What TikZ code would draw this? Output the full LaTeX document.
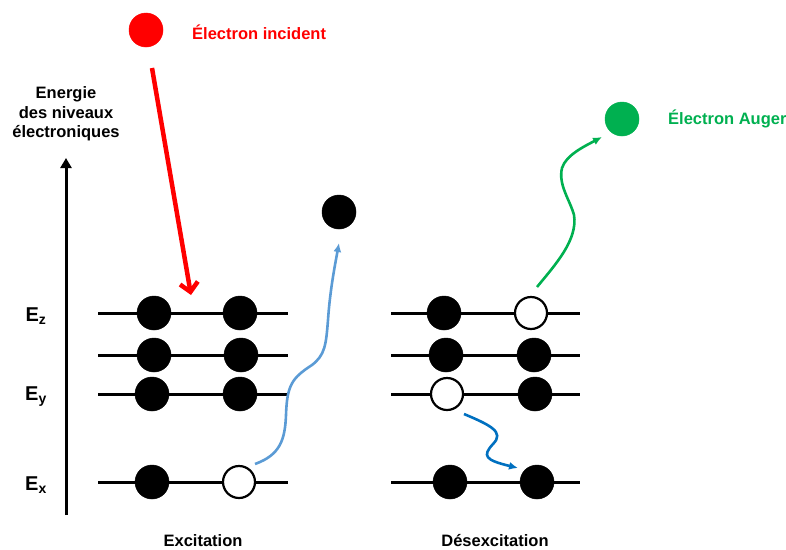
\documentclass[tikz,border=0pt]{standalone}
\usepackage{fontspec}
\setmainfont{Liberation Sans}
\usepackage{tikz}
\usetikzlibrary{arrows.meta}
\usetikzlibrary{calc}
\definecolor{incred}{RGB}{255,0,0}
\definecolor{augergreen}{RGB}{0,176,80}
\definecolor{lightblue}{RGB}{91,155,213}
\definecolor{darkblue}{RGB}{0,112,192}
\tikzstyle{full} = [circle, draw=black, fill=black, minimum size=34pt, inner sep=0pt, line width=0.5pt]
\tikzstyle{hole} = [circle, draw=black, fill=white, minimum size=32pt, inner sep=0pt, line width=2.2pt]
\tikzstyle{level} = [draw, line width=3pt]
\tikzstyle{txt} = [font=\bfseries\fontsize{16.5}{19.5}\selectfont, inner sep=0pt]
\tikzstyle{etxt} = [font=\bfseries\fontsize{20}{23}\selectfont, inner sep=0pt]
\tikzstyle{wave} = [line width=2.6pt, -{Latex[length=9pt,width=8pt]}]

\begin{document}
\begin{tikzpicture}[x=1pt,y=-1pt]
    \useasboundingbox (0,0) rectangle (786,549);

    % energy axis
    \node [txt, align=center] (energie) at (66,114) {Energie\\des niveaux\\électroniques};
    \coordinate (axbot) at (66,515);
    \coordinate (axtop) at (66,158);
    \draw [line width=3pt, -{Triangle[length=10pt,width=11pt]}] (axbot) -- (axtop);
    \node [etxt] (ez) at (36,316) {E\textsubscript{z}};
    \node [etxt] (ey) at (36,397) {E\textsubscript{y}};
    \node [etxt] (ex) at (36,485) {E\textsubscript{x}};

    % levels
    \foreach \y [count=\i] in {313,355,394,482} {
        \coordinate (la\i) at (98,\y);
        \coordinate (lb\i) at (288,\y);
        \coordinate (ra\i) at (391,\y);
        \coordinate (rb\i) at (580,\y);
        \draw [level] (la\i) -- (lb\i);
        \draw [level] (ra\i) -- (rb\i);
    }

    % excitation
    \node [full] (a1) at (154,313) {};
    \node [full] (a2) at (240,313) {};
    \node [full] (a3) at (154,355) {};
    \node [full] (a4) at (241,355) {};
    \node [full] (a5) at (152,394) {};
    \node [full] (a6) at (240,394) {};
    \node [full] (a7) at (152,482) {};
    \node [hole] (a8) at (239,482) {};
    \node [full] (ejected) at (339,212) {};

    % desexcitation
    \node [full] (b1) at (444,313) {};
    \node [hole] (b2) at (531,313) {};
    \node [full] (b3) at (446,355) {};
    \node [full] (b4) at (534,355) {};
    \node [hole] (b5) at (447,394) {};
    \node [full] (b6) at (535,394) {};
    \node [full] (b7) at (450,482) {};
    \node [full] (b8) at (537,482) {};

    % incident and Auger electrons
    \node [full, fill=incred, draw=incred] (incident) at (146,30) {};
    \node [txt, text=incred, anchor=west] (incidenttxt) at (192,32) {Électron incident};
    \node [full, fill=augergreen, draw=augergreen] (auger) at (622,119) {};
    \node [txt, text=augergreen, anchor=west] (augertxt) at (668,119) {Électron Auger};

    \node [txt] (excitation) at (203,541) {Excitation};
    \node [txt] (desexcitation) at (495,541) {Désexcitation};

    % Draw edges
    \coordinate (redstart) at (152,68);
    \coordinate (hit) at (191,295);
    \draw [incred, line width=4.5pt, -{Straight Barb[length=9pt,width=18pt]}] (redstart) -- (hit);
    \draw [wave, lightblue] ($(a8)+(16,-18)$) .. controls (280,455) and (285,440) .. (286,415)
        .. controls (287,385) and (292,378) .. (312,365)
        .. controls (325,355) and (326,345) .. (328,320)
        .. controls (330,290) and (335,265) .. ($(ejected)+(0,31)$);
    \draw [wave, augergreen] ($(b2)+(6,-26)$) .. controls (555,265) and (578,240) .. (574,215)
        .. controls (570,200) and (558,185) .. (562,168)
        .. controls (566,155) and (585,146) .. ($(auger)+(-20,18)$);
    \draw [wave, darkblue] ($(b5)+(17,20)$) .. controls (490,425) and (505,432) .. (493,444)
        .. controls (482,456) and (485,460) .. ($(b8)+(-19,-14)$);
\end{tikzpicture}
\end{document}
